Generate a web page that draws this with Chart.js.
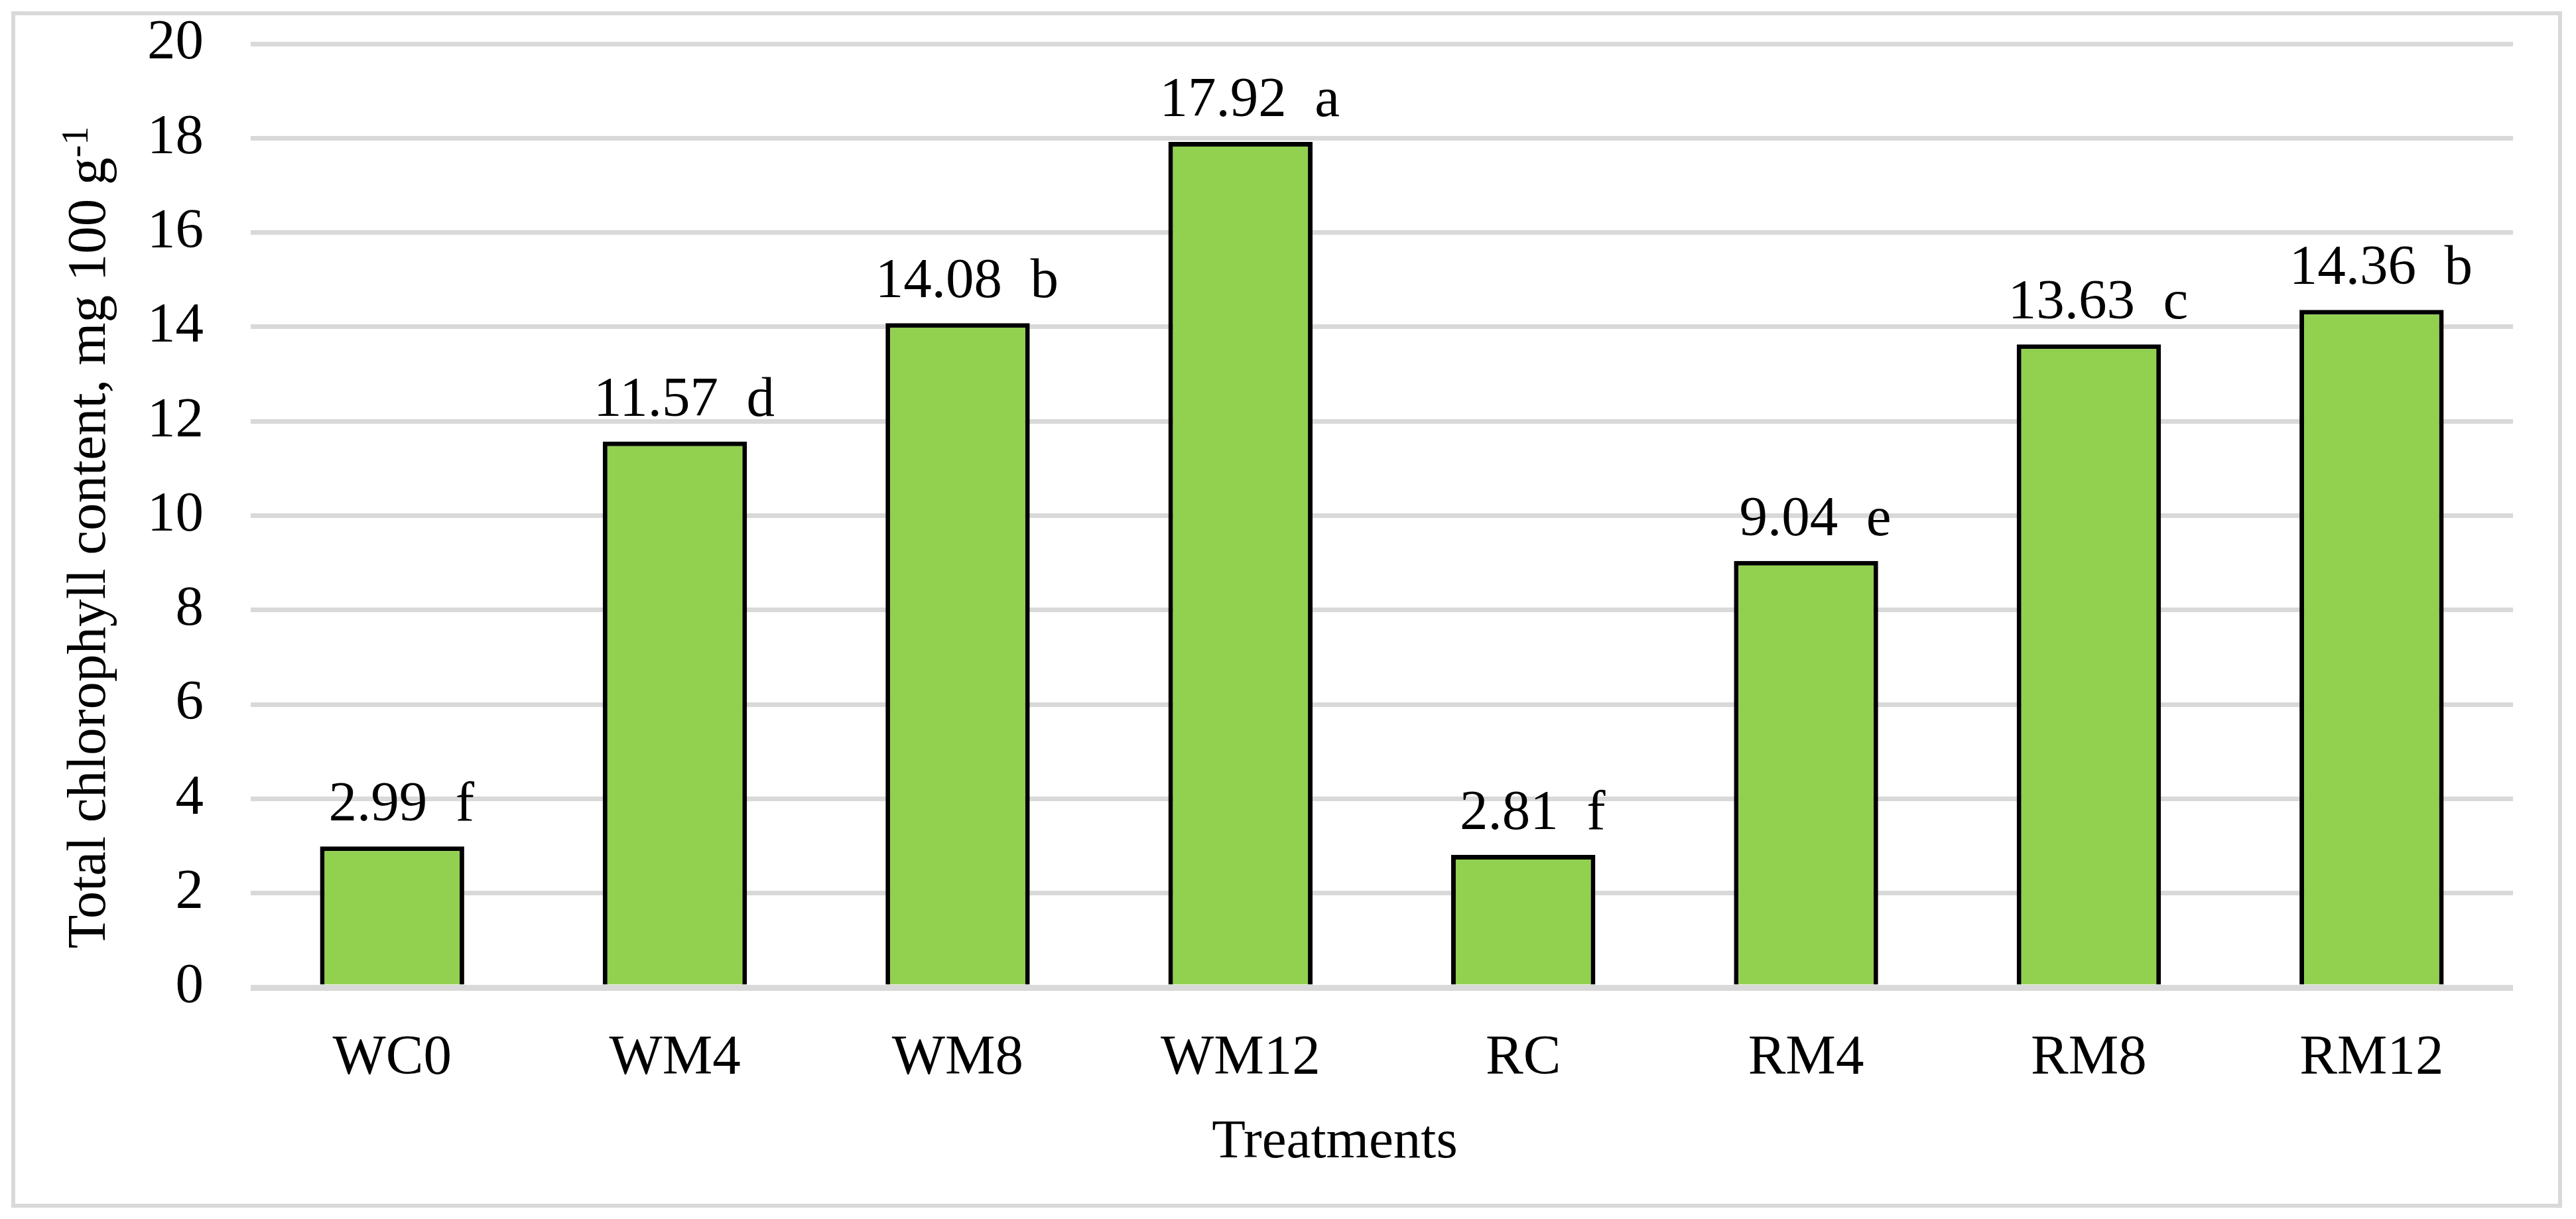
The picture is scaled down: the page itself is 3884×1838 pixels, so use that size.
<!DOCTYPE html>
<html>
<head>
<meta charset="utf-8">
<script src="https://cdn.jsdelivr.net/npm/chart.js@4.4.1/dist/chart.umd.min.js"></script>
<style>
  html, body { margin: 0; padding: 0; background: #fff; overflow: hidden; }
  canvas { display: block; }
</style>
</head>
<body>
<canvas id="chart" width="3884" height="1838"></canvas>
<script>
const treatments = ["WC0", "WM4", "WM8", "WM12", "RC", "RM4", "RM8", "RM12"];
const chlorophyll = [2.99, 11.57, 14.08, 17.92, 2.81, 9.04, 13.63, 14.36];
const letters = ["f", "d", "b", "a", "f", "e", "c", "b"];
const yTicks = [0, 2, 4, 6, 8, 10, 12, 14, 16, 18, 20];

const serif = "'Liberation Serif', 'Times New Roman', serif";
const gridGray = "#d9d9d9";

// frame, bar labels and the two axis titles
const extras = {
  id: "extras",
  beforeDraw(chart) {
    const c = chart.ctx;
    c.save();
    c.fillStyle = "#fff";
    c.fillRect(0, 0, chart.width, chart.height);
    c.strokeStyle = gridGray;
    c.lineWidth = 6;
    c.strokeRect(20, 20, chart.width - 44, chart.height - 40);
    c.restore();
  },
  afterDatasetsDraw(chart) {
    const c = chart.ctx;
    const meta = chart.getDatasetMeta(0);
    c.save();
    c.fillStyle = "#000";
    c.font = `85px ${serif}`;
    c.textAlign = "center";
    c.textBaseline = "alphabetic";
    meta.data.forEach((bar, i) => {
      const txt = `${chlorophyll[i].toFixed(2)}  ${letters[i]}`;
      c.fillText(txt, bar.x + 14, bar.y - 39);
    });
    c.restore();
  },
  afterDraw(chart) {
    const c = chart.ctx;
    const area = chart.chartArea;
    c.save();
    c.fillStyle = "#000";

    // x title
    c.font = `83px ${serif}`;
    c.textAlign = "center";
    c.textBaseline = "alphabetic";
    c.fillText("Treatments", (area.left + area.right) / 2 - 71, 1745);

    // y title with superscript
    const main = "Total chlorophyll content, mg 100 g";
    const sup = "-1";
    c.font = `83px ${serif}`;
    const wMain = c.measureText(main).width;
    c.font = `56px ${serif}`;
    const wSup = c.measureText(sup).width;
    const total = wMain + wSup;
    const cy = (area.top + area.bottom) / 2 + 33;
    c.translate(158, cy);
    c.rotate(-Math.PI / 2);
    c.textAlign = "left";
    c.font = `83px ${serif}`;
    c.fillText(main, -total / 2, 0);
    c.font = `56px ${serif}`;
    c.fillText(sup, -total / 2 + wMain, -26);
    c.restore();
  }
};

new Chart(document.getElementById("chart"), {
  type: "bar",
  data: {
    labels: treatments,
    datasets: [{
      data: chlorophyll,
      backgroundColor: "#92d050",
      borderColor: "#000",
      borderWidth: 7,
      borderSkipped: "start",
      categoryPercentage: 1,
      barPercentage: 0.51
    }]
  },
  options: {
    responsive: false,
    animation: false,
    devicePixelRatio: 1,
    layout: { padding: { left: 180, right: 95, top: 66, bottom: 0 } },
    plugins: {
      legend: { display: false },
      tooltip: { enabled: false }
    },
    scales: {
      x: {
        grid: { display: false },
        border: { display: false },
        ticks: {
          color: "#000",
          padding: 49,
          font: { family: serif, size: 85 }
        },
        afterFit(scale) { scale.height = 349; }
      },
      y: {
        min: 0,
        max: 20,
        afterBuildTicks(scale) {
          scale.ticks = yTicks.map(v => ({ value: v }));
        },
        grid: {
          color: gridGray,
          lineWidth: ctx => (ctx.tick && ctx.tick.value === 0 ? 9 : 7),
          drawTicks: false
        },
        border: { display: false },
        ticks: {
          color: "#000",
          padding: 71,
          font: { family: serif, size: 85 }
        },
        afterFit(scale) {
          scale.width = 198;
          scale.paddingTop = 0;
          scale.paddingBottom = 0;
        }
      }
    }
  },
  plugins: [extras]
});
</script>
</body>
</html>
